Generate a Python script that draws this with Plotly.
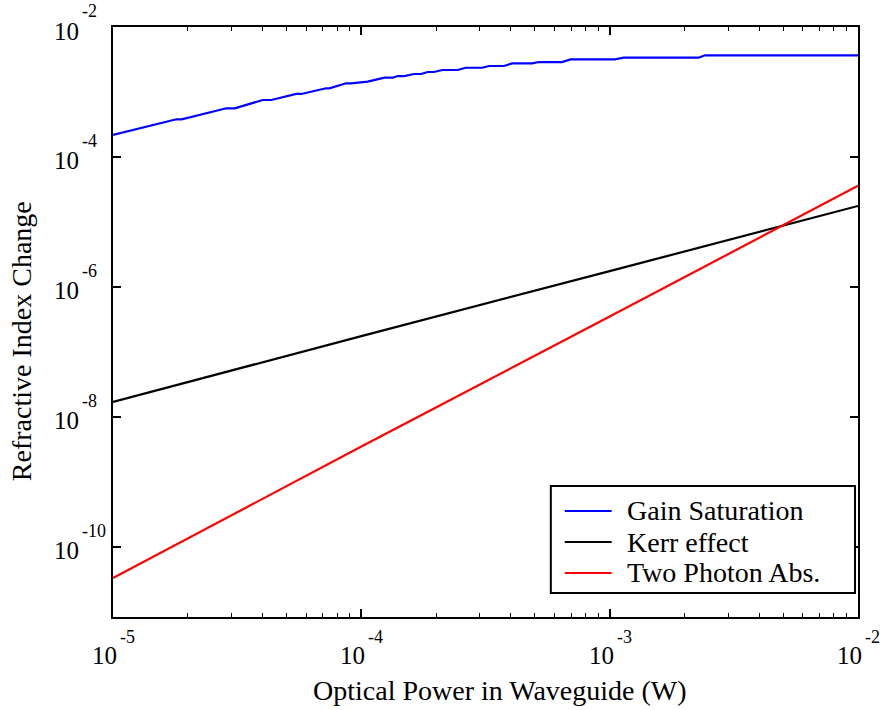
import math
import plotly.graph_objects as go

# Data (optical power in W, refractive index change)
gain_p = [1.0e-5, 1.80e-5, 1.89e-5, 2.86e-5, 3.09e-5, 4.01e-5, 4.34e-5, 5.47e-5, 5.73e-5,
          7.21e-5, 7.44e-5, 8.68e-5, 9.09e-5, 1.01e-4, 1.06e-4, 1.24e-4, 1.34e-4, 1.40e-4,
          1.49e-4, 1.63e-4, 1.74e-4, 1.85e-4, 1.96e-4, 2.12e-4, 2.44e-4, 2.63e-4, 3.07e-4,
          3.27e-4, 3.75e-4, 4.05e-4, 4.88e-4, 5.19e-4, 6.43e-4, 6.95e-4, 1.05e-3, 1.14e-3,
          2.28e-3, 2.42e-3, 1.0e-2]
gain_dn = [2.18e-4, 3.80e-4, 3.80e-4, 5.61e-4, 5.61e-4, 7.53e-4, 7.53e-4, 9.32e-4, 9.32e-4,
           1.14e-3, 1.14e-3, 1.36e-3, 1.36e-3, 1.44e-3, 1.44e-3, 1.66e-3, 1.66e-3, 1.76e-3,
           1.76e-3, 1.89e-3, 1.89e-3, 2.03e-3, 2.03e-3, 2.18e-3, 2.18e-3, 2.36e-3, 2.36e-3,
           2.51e-3, 2.51e-3, 2.76e-3, 2.76e-3, 2.89e-3, 2.89e-3, 3.18e-3, 3.18e-3, 3.37e-3,
           3.37e-3, 3.67e-3, 3.67e-3]

kerr_p = [1.0e-5, 1.0e-4, 1.0e-3, 1.0e-2]
kerr_dn = [1.7e-8, 1.75e-7, 1.75e-6, 1.76e-5]

tpa_p = [1.0e-5, 1.0e-4, 1.0e-3, 1.0e-2]
tpa_dn = [3.3e-11, 3.5e-9, 3.5e-7, 3.6e-5]

series_names = ["Gain Saturation", "Kerr effect", "Two Photon Abs."]
series_colors = ["#0000ff", "#000000", "#ff0000"]

x_tickvals = [1e-5, 1e-4, 1e-3, 1e-2]
x_tickexp = ["-5", "-4", "-3", "-2"]
y_tickvals = [1e-10, 1e-8, 1e-6, 1e-4, 1e-2]
y_tickexp = ["-10", "-8", "-6", "-4", "-2"]

x_title = "Optical Power in Waveguide (W)"
y_title = "Refractive Index Change"

FONT = "Liberation Serif, Times New Roman, serif"
BASE_SIZE = 25
EXP_SIZE = 18

fig = go.Figure()
for xs, ys, nm, col in zip([gain_p, kerr_p, tpa_p], [gain_dn, kerr_dn, tpa_dn],
                           series_names, series_colors):
    fig.add_trace(go.Scatter(x=xs, y=ys, mode="lines", name=nm,
                             line=dict(color=col, width=2.2), showlegend=False))

annotations = []
# tick labels: "10" with raised exponent, like the original
for v, e in zip(x_tickvals, x_tickexp):
    lv = math.log10(v)
    annotations.append(dict(text="10", xref="x", yref="paper", x=lv, y=0,
                            xanchor="right", yanchor="middle", xshift=6, yshift=-38,
                            showarrow=False, font=dict(family=FONT, size=BASE_SIZE, color="black")))
    annotations.append(dict(text=e, xref="x", yref="paper", x=lv, y=0,
                            xanchor="left", yanchor="middle", xshift=5, yshift=-20,
                            showarrow=False, font=dict(family=FONT, size=EXP_SIZE, color="black")))
for v, e in zip(y_tickvals, y_tickexp):
    lv = math.log10(v)
    annotations.append(dict(text="10", xref="paper", yref="y", x=0, y=lv,
                            xanchor="right", yanchor="middle", xshift=-32, yshift=-4,
                            showarrow=False, font=dict(family=FONT, size=BASE_SIZE, color="black")))
    annotations.append(dict(text=e, xref="paper", yref="y", x=0, y=lv,
                            xanchor="left", yanchor="middle", xshift=-33, yshift=16,
                            showarrow=False, font=dict(family=FONT, size=EXP_SIZE, color="black")))

# axis titles
annotations.append(dict(text=x_title, xref="paper", yref="paper", x=0.52, y=-0.124,
                        xanchor="center", yanchor="middle", showarrow=False,
                        font=dict(family=FONT, size=28, color="black")))
annotations.append(dict(text=y_title, xref="paper", yref="paper", x=-0.1218, y=0.468,
                        xanchor="center", yanchor="middle", showarrow=False, textangle=-90,
                        font=dict(family=FONT, size=28, color="black")))

# legend (boxed, lower right)
shapes = [dict(type="rect", xref="paper", yref="paper", x0=0.5877, x1=0.996, y0=0.0407, y1=0.222,
               line=dict(color="black", width=2), fillcolor="white", layer="above")]
legend_rows = [0.1797, 0.1271, 0.0746]
for nm, col, ry in zip(series_names, series_colors, legend_rows):
    shapes.append(dict(type="line", xref="paper", yref="paper", x0=0.6064, x1=0.6693, y0=ry, y1=ry,
                       line=dict(color=col, width=2.2), layer="above"))
    annotations.append(dict(text=nm, xref="paper", yref="paper", x=0.6874, y=ry,
                            xanchor="left", yanchor="middle", showarrow=False,
                            font=dict(family=FONT, size=28, color="black")))

fig.update_layout(
    width=882, height=710,
    margin=dict(l=113, r=24, t=27, b=93),
    paper_bgcolor="white", plot_bgcolor="white",
    font=dict(family=FONT, size=24, color="black"),
    showlegend=False,
    annotations=annotations,
    shapes=shapes,
)
fig.update_xaxes(
    type="log", range=[-5, -2],
    tickvals=x_tickvals, showticklabels=False,
    ticks="inside", ticklen=8, tickwidth=1.5, tickcolor="black",
    minor=dict(ticks="inside", ticklen=4, tickwidth=1.2, tickcolor="black", dtick="D1", showgrid=False),
    showline=True, linecolor="black", linewidth=2, mirror="ticks",
    showgrid=False, zeroline=False,
)
fig.update_yaxes(
    type="log", range=[-11.08, -2],
    tickvals=y_tickvals, showticklabels=False,
    ticks="inside", ticklen=8, tickwidth=1.5, tickcolor="black",
    showline=True, linecolor="black", linewidth=2, mirror="ticks",
    showgrid=False, zeroline=False,
)

fig.write_html("out.html")
